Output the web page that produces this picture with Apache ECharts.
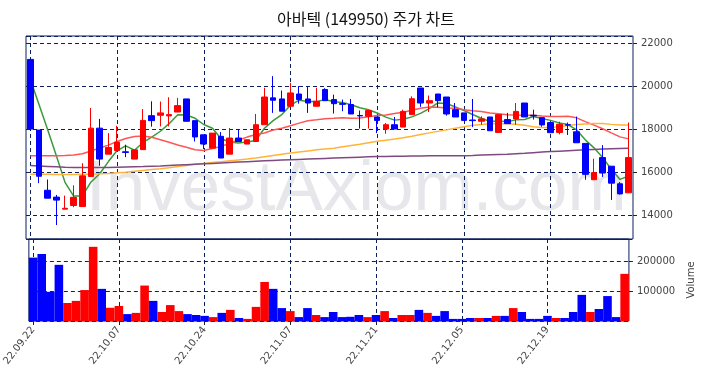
<!DOCTYPE html>
<html>
<head>
<meta charset="utf-8">
<script src="https://cdn.jsdelivr.net/npm/echarts@6/dist/echarts.min.js"></script>
<style>
  html, body { margin: 0; padding: 0; background: #fff; }
  #main { width: 704px; height: 378px; }
</style>
</head>
<body>
<div id="main"></div>
<script>
// 날짜 (22.09.22 ~ 22.12.30)
var dates = ['22.09.22','22.09.23','22.09.26','22.09.27','22.09.28','22.09.29','22.09.30',
  '22.10.04','22.10.05','22.10.06','22.10.07','22.10.11','22.10.12','22.10.13','22.10.14',
  '22.10.17','22.10.18','22.10.19','22.10.20','22.10.21','22.10.24','22.10.25','22.10.26',
  '22.10.27','22.10.28','22.10.31','22.11.01','22.11.02','22.11.03','22.11.04','22.11.07',
  '22.11.08','22.11.09','22.11.10','22.11.11','22.11.14','22.11.15','22.11.16','22.11.17',
  '22.11.18','22.11.21','22.11.22','22.11.23','22.11.24','22.11.25','22.11.28','22.11.29',
  '22.11.30','22.12.01','22.12.02','22.12.05','22.12.06','22.12.07','22.12.08','22.12.09',
  '22.12.12','22.12.13','22.12.14','22.12.15','22.12.16','22.12.19','22.12.20','22.12.21',
  '22.12.22','22.12.23','22.12.26','22.12.27','22.12.28','22.12.29','22.12.30'];

var opens  = [21240,17950,15150,14830,14270,14440,14390,15790,18040,16830,17000,16940,16600,17040,18620,18640,18610,18790,19400,18390,
              17730,17110,17660,16830,17580,17300,17420,18200,19450,19400,19060,19630,19400,19060,19840,19370,19180,19140,18630,18590,
              18560,18000,18200,18090,18670,19910,19210,19630,19490,18900,18750,18420,18360,18560,17840,18440,18470,19210,18640,18530,
              18300,17840,18200,17870,17330,15640,16670,16270,15450,15030];
var closes = [18000,15800,14780,14690,14310,14820,15820,18040,16600,17140,17390,16910,17030,18400,18390,18750,18670,19090,18360,17630,
              17300,17810,16650,17580,17420,17500,18200,19490,19340,18830,19680,19370,19210,19290,19320,19180,19150,18700,18610,18860,
              18400,18200,18000,18820,19410,19210,19320,19320,18700,18560,18400,18390,18470,17920,18670,18250,18820,18560,18610,18190,
              17830,18220,18180,17360,15890,15970,15950,15480,14980,16670];
var lows   = [18000,15480,14780,13530,14270,14360,14390,15790,16290,16830,16950,16690,16600,17040,18110,18120,18120,18790,18360,17420,
              17070,17110,16650,16830,17420,17300,17420,18200,18750,18830,19060,19180,18750,19060,19320,18720,18830,18700,18020,18020,
              17810,17780,18000,18090,18670,19030,18790,19010,18620,18560,18400,18090,18200,17920,17840,18250,18200,18560,18440,18110,
              17830,17750,17720,17360,15640,15640,15770,14700,14950,15030];
var highs  = [21240,17950,15650,14930,14900,15380,16410,18980,18470,17810,18150,17270,17030,18930,19290,19280,19480,19450,19400,18390,
              17730,17810,17860,18050,18000,17500,18700,19920,20460,19790,20150,20000,20000,19920,19900,19600,19370,19400,18860,18860,
              18560,18280,18560,18900,19520,19910,19560,19630,19490,19210,18750,19400,18590,18560,18670,18750,19210,19210,18900,18530,
              18300,18340,18300,18580,17330,16620,17250,16270,15530,18300];
var volumes = [211000,223000,97000,187000,60000,67000,103000,247000,107000,44000,50000,23000,27000,118000,67000,30000,53000,33000,23000,20000,
               17000,13000,27000,37000,10000,7000,47000,130000,107000,43000,33000,13000,43000,20000,13000,30000,13000,14000,20000,13000,
               20000,33000,10000,20000,20000,37000,27000,17000,33000,7000,7000,10000,10000,10000,17000,17000,43000,30000,7000,7000,
               17000,10000,10000,30000,87000,30000,40000,83000,13000,157000];

// 이동평균선
var ma5   = [20300,19140,17970,16760,15516,14880,14884,15536,15918,16484,16998,17216,17014,17374,17624,17896,18248,18660,18652,18500,
             18210,18038,17550,17394,17352,17392,17470,18038,18390,18672,19108,19342,19286,19276,19374,19274,19230,19128,18992,18900,
             18744,18554,18414,18456,18566,18728,18952,19216,19192,19022,18860,18674,18504,18348,18370,18340,18426,18444,18582,18486,
             18402,18282,18206,17956,17496,17124,16670,16130,15654,15810];
var ma20  = [16750,16750,16760,16760,16770,16790,16850,16980,17120,17250,17420,17560,17650,17680,17620,17500,17380,17260,17150,17031,
             16996,17097,17190,17335,17490,17624,17743,17816,17953,18037,18152,18275,18384,18428,18475,18496,18520,18501,18513,18575,
             18630,18649,18717,18779,18878,18964,19020,19011,18979,18966,18902,18853,18816,18747,18715,18668,18652,18645,18645,18611,
             18583,18584,18593,18520,18344,18182,18013,17821,17635,17541];
var ma60  = [15900,15895,15890,15885,15880,15880,15890,15900,15915,15930,15960,15990,16030,16070,16110,16150,16200,16250,16300,16360,
             16400,16440,16480,16520,16560,16600,16650,16710,16770,16830,16880,16930,16980,17030,17070,17110,17170,17230,17290,17360,
             17430,17480,17530,17590,17660,17740,17820,17890,17960,18040,18110,18170,18210,18240,18250,18250,18220,18170,18110,18072,
             18069,18110,18166,18211,18237,18256,18259,18216,18189,18182];
var ma120 = [16300,16280,16260,16240,16220,16210,16210,16205,16205,16210,16220,16230,16240,16250,16265,16280,16300,16320,16340,16360,
             16380,16400,16420,16440,16460,16480,16500,16520,16540,16555,16570,16585,16600,16615,16630,16645,16660,16675,16690,16705,
             16720,16725,16730,16735,16740,16745,16750,16752,16755,16757,16760,16770,16785,16800,16815,16830,16850,16870,16900,16930,
             16950,16970,16990,17010,17030,17050,17065,17080,17095,17110];

var navy = '#0b1f5c';
var labelFont = 'DejaVu Sans';

var candles = [];
var volData = [];
for (var i = 0; i < dates.length; i++) {
  candles.push([opens[i], closes[i], lows[i], highs[i]]);
  volData.push({
    value: volumes[i],
    itemStyle: { color: closes[i] >= opens[i] ? '#ff0000' : '#0000ff' }
  });
}

function maLine(name, data, color) {
  return {
    name: name, type: 'line', data: data, showSymbol: false, symbol: 'none',
    smooth: false, z: 3,
    lineStyle: { color: color, width: 1.5 },
    xAxisIndex: 0, yAxisIndex: 0
  };
}

var chart = echarts.init(document.getElementById('main'));
var option = {
  animation: false,
  backgroundColor: '#fff',
  title: {
    text: '아바텍 (149950) 주가 차트',
    left: 361, top: 6, textAlign: 'center',
    textStyle: { fontFamily: 'Noto Sans CJK KR', fontSize: 16, fontWeight: 'normal', color: '#111' }
  },
  graphic: [{
    type: 'text', z: -1, silent: true,
    left: 86, top: 155,
    style: { text: 'InvestAxiom.com', font: '71px "Liberation Sans"', fill: '#e6e6eb' }
  }],
  grid: [
    { left: 26, right: 71, top: 36, height: 203, show: true, borderColor: navy, borderWidth: 1, backgroundColor: 'transparent' },
    { left: 26, right: 71, top: 239, height: 82, show: true, borderColor: navy, borderWidth: 1, backgroundColor: 'transparent' }
  ],
  xAxis: [
    {
      type: 'category', data: dates, gridIndex: 0, boundaryGap: true,
      axisLine: { show: false }, axisTick: { show: false }, axisLabel: { show: false },
      splitLine: { show: true, interval: 9, alignWithLabel: true, lineStyle: { color: navy, type: [4, 3], width: 1 } }
    },
    {
      type: 'category', data: dates, gridIndex: 1, boundaryGap: true,
      axisLine: { show: false },
      axisTick: { show: true, interval: 9, alignWithLabel: true, length: 4, lineStyle: { color: '#222' } },
      axisLabel: { interval: 9, rotate: 52, margin: 7, fontFamily: labelFont, fontSize: 10, color: '#444' },
      splitLine: { show: true, interval: 9, alignWithLabel: true, lineStyle: { color: navy, type: [4, 3], width: 1 } }
    }
  ],
  yAxis: [
    {
      type: 'value', gridIndex: 0, position: 'right', min: 12880, max: 22330, splitNumber: 5,
      axisLine: { show: false },
      axisTick: { show: true, length: 4, lineStyle: { color: '#222' } },
      axisLabel: {
        showMinLabel: false, showMaxLabel: false, margin: 8,
        fontFamily: labelFont, fontSize: 10, color: '#444',
        formatter: function (v) { return v % 2000 === 0 ? String(v) : ''; }
      },
      splitLine: { show: true, lineStyle: { color: navy, type: [4, 3], width: 1 } }
    },
    {
      type: 'value', gridIndex: 1, position: 'right', min: 0, max: 273000, interval: 100000,
      name: 'Volume', nameLocation: 'middle', nameRotate: 90, nameGap: 52,
      nameTextStyle: { fontFamily: labelFont, fontSize: 10, color: '#444' },
      axisLine: { show: false },
      axisTick: { show: true, length: 4, lineStyle: { color: '#222' } },
      axisLabel: {
        showMinLabel: false, showMaxLabel: false, margin: 8,
        fontFamily: labelFont, fontSize: 10, color: '#444',
        formatter: function (v) { return (v === 100000 || v === 200000) ? String(v) : ''; }
      },
      splitLine: { show: true, lineStyle: { color: navy, type: [4, 3], width: 1 } }
    }
  ],
  series: [
    {
      name: 'price', type: 'candlestick', data: candles, xAxisIndex: 0, yAxisIndex: 0,
      barWidth: '70%', z: 4,
      itemStyle: { color: '#ff0000', color0: '#0000ff', borderColor: '#ff0000', borderColor0: '#0000ff', borderWidth: 1 }
    },
    maLine('MA5', ma5, '#3a9a3a'),
    maLine('MA20', ma20, '#ff5555'),
    maLine('MA60', ma60, '#ffb33a'),
    maLine('MA120', ma120, '#7f4a7f'),
    {
      name: 'Volume', type: 'bar', data: volData, xAxisIndex: 1, yAxisIndex: 1,
      barCategoryGap: '0%', barGap: '0%', z: 4
    }
  ]
};
chart.setOption(option);
</script>
</body>
</html>
